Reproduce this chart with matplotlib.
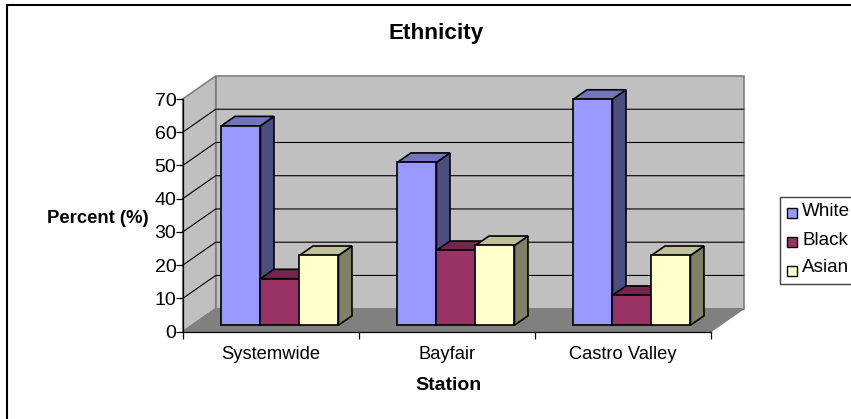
import matplotlib
matplotlib.use("Agg")
import matplotlib.pyplot as plt
from matplotlib.patches import Polygon, Rectangle

stations = ['Systemwide', 'Bayfair', 'Castro Valley']
ethnicity = ['White', 'Black', 'Asian']
white = [60, 49, 68]
black = [14, 22.5, 9]
asian = [21, 24, 21]
yticks = [0, 10, 20, 30, 40, 50, 60, 70]

plt.rcParams['font.family'] = ['Liberation Sans', 'DejaVu Sans']

W, H = 851, 419
fig = plt.figure(figsize=(W / 100, H / 100), dpi=100)
ax = fig.add_axes([182.7 / W, 1 - 331.7 / H, 528 / W, 232.7 / H])
ax.set_xlim(0, 3)
ax.set_ylim(0, 70)
ax.patch.set_visible(False)

# oblique depth: one unit of depth moves this far in data units
DX = 33 / 176
DY = 23 / 3.324
WALL = '#c0c0c0'
FLOOR = '#808080'
EDGE = '#808080'
colors = ['#9999ff', '#993366', '#ffffcc']
sides = ['#4d4d80', '#4d1a33', '#808066']
tops = ['#7373bf', '#73264d', '#bfbf99']


def proj(x, v, d):
    return (x + d * DX, v + d * DY)


def face(pts, color, edge='black', lw=1.2, z=2):
    ax.add_patch(Polygon([proj(*p) for p in pts], closed=True, facecolor=color,
                         edgecolor=edge, linewidth=lw, zorder=z, clip_on=False,
                         joinstyle='miter'))


# walls and floor
face([(0, 0, 0), (0, 70, 0), (0, 70, 1), (0, 0, 1)], WALL, EDGE, 1.2, 1)
face([(0, 0, 1), (0, 70, 1), (3, 70, 1), (3, 0, 1)], WALL, EDGE, 1.2, 1)
face([(0, 0, 0), (3, 0, 0), (3, 0, 1), (0, 0, 1)], FLOOR, FLOOR, 1.0, 1)

# gridlines
for t in yticks[1:-1]:
    ax.plot(*zip(proj(0, t, 0), proj(0, t, 1), proj(3, t, 1)), color='black',
            lw=0.8, zorder=1.5, clip_on=False)

# bars
bar_w = 0.2216
gap = 0.1675
d0, d1 = 0.28, 0.69
series = [white, black, asian]
z = 2
for i in range(len(stations)):
    for j, vals in enumerate(series):
        x0 = i + gap + j * bar_w
        x1 = x0 + bar_w
        v = vals[i]
        face([(x1, 0, d0), (x1, 0, d1), (x1, v, d1), (x1, v, d0)], sides[j], z=z)
        face([(x0, v, d0), (x1, v, d0), (x1, v, d1), (x0, v, d1)], tops[j], z=z)
        face([(x0, 0, d0), (x1, 0, d0), (x1, v, d0), (x0, v, d0)], colors[j], z=z)
        z += 1

# axes
ax.set_xticks(range(4))
ax.set_xticklabels([])
ax.set_xticks([0.5, 1.5, 2.5], minor=True)
ax.set_xticklabels(stations, minor=True, fontsize=13.2)
ax.tick_params(axis='x', which='minor', length=0, pad=10)
ax.tick_params(axis='x', which='major', length=5, width=0.9, direction='out')
ax.set_yticks(yticks)
ax.tick_params(axis='y', length=5, width=0.9, labelsize=14, pad=-0.5)
for s in ['top', 'right']:
    ax.spines[s].set_visible(False)
for s in ['left', 'bottom']:
    ax.spines[s].set_linewidth(0.9)
    ax.spines[s].set_zorder(1.8)

fig.text(436 / W, 1 - 34 / H, 'Ethnicity', fontsize=16.2, fontweight='bold',
         ha='center', va='center')
fig.text(448 / W, 1 - 385 / H, 'Station', fontsize=14, fontweight='bold',
         ha='center', va='center')
fig.text(98 / W, 1 - 218 / H, 'Percent (%)', fontsize=13.3, fontweight='bold',
         ha='center', va='center')

# legend, runs off the right edge like the reference
fig.add_artist(Rectangle((780 / W, 1 - 284 / H), 80 / W, 87 / H,
                         transform=fig.transFigure, fc='white', ec='#404040', lw=1))
for name, c, y_box, y_txt in zip(ethnicity, colors, [213, 242, 271], [212, 240, 268]):
    fig.add_artist(Rectangle((787 / W, 1 - (y_box + 5) / H), 10 / W, 10 / H,
                             transform=fig.transFigure, fc=c, ec='black', lw=1))
    fig.text(802 / W, 1 - y_txt / H, name, fontsize=13.6, va='center', ha='left')

# outer border, only top and left fall inside the picture
fig.add_artist(Rectangle((7 / W, 1 - 430 / H), 860 / W, 425 / H,
                         transform=fig.transFigure, fc='none', ec='black', lw=1.5, zorder=-1))

fig.savefig('out.png', dpi=100)
